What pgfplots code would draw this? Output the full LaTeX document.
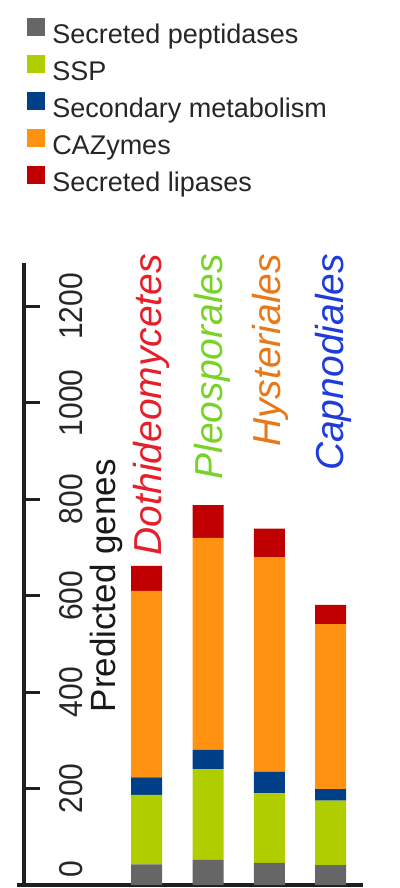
\documentclass[border=0pt]{standalone}
\usepackage{fontspec}
\setmainfont{Liberation Sans}
\usepackage{pgfplots}
\pgfplotsset{compat=1.18}
\definecolor{cpep}{HTML}{666666}
\definecolor{cssp}{HTML}{B0CD00}
\definecolor{csec}{HTML}{004088}
\definecolor{ccaz}{HTML}{FF9210}
\definecolor{clip}{HTML}{C00000}
\definecolor{tred}{HTML}{E5202A}
\definecolor{tgreen}{HTML}{78D228}
\definecolor{torange}{HTML}{E87818}
\definecolor{tblue}{HTML}{1E3CDC}
\begin{document}
\begin{tikzpicture}
\useasboundingbox (0,0) rectangle (400bp,888bp);
\begin{axis}[
  at={(24bp,3bp)}, anchor=south west,
  scale only axis, width=339bp, height=622bp,
  xmin=-2.0, xmax=3.527, ymin=0, ymax=1290,
  clip=false,
  ybar stacked, bar width=31bp,
  axis x line*=bottom, axis y line*=left,
  axis line style={line width=3.5bp, color=black!88},
  x axis line style={shorten <=-7bp},
  xtick=\empty,
  ytick={200,400,600,800,1000,1200},
  extra y ticks={33}, extra y tick labels={0},
  extra y tick style={major tick length=0pt},
  tick align=inside,
  major tick length=16bp,
  major tick style={line width=3bp, color=black!88},
  /pgf/number format/1000 sep={},
  /pgf/number format/assume math mode=true,
  yticklabel style={rotate=90, yshift=-47bp, xscale=0.91, anchor=center, font=\fontsize{33bp}{36bp}\selectfont, text=black!85},
  ylabel={Predicted genes},
  every axis y label/.style={at={(axis description cs:0.242,0.481)}, rotate=90, anchor=center, font=\fontsize{35bp}{40bp}\selectfont, text=black!90},
  legend style={draw=none, fill=none, at={(axis description cs:0.009,1.394)}, anchor=north west,
    inner sep=0pt, row sep=6bp, font=\fontsize{27bp}{30bp}\selectfont, text=black!85,
    nodes={inner sep=0pt, text height=20bp, text depth=6bp}},
  legend cell align=left,
  legend image code/.code={\fill[#1] (0bp,0bp) rectangle (18bp,18bp); \path (25bp,0bp);},
  every axis plot/.append style={draw=none},
]
\addplot[fill=cpep] coordinates {(0,43) (1,52) (2,46) (3,41)};
\addplot[fill=cssp] coordinates {(0,144) (1,188) (2,144) (3,134)};
\addplot[fill=csec] coordinates {(0,36) (1,40) (2,45) (3,24)};
\addplot[fill=ccaz] coordinates {(0,387) (1,440) (2,445) (3,342)};
\addplot[fill=clip] coordinates {(0,52) (1,68) (2,59) (3,40)};
\legend{Secreted peptidases, SSP, Secondary metabolism, CAZymes, Secreted lipases}
\node[rotate=90, anchor=east, text=tred, font=\fontsize{39bp}{42bp}\selectfont\itshape, inner sep=0pt] at (axis cs:0.07,1309) {Dothideomycetes};
\node[rotate=90, anchor=east, text=tgreen, font=\fontsize{39bp}{42bp}\selectfont\itshape, inner sep=0pt] at (axis cs:1.07,1309) {Pleosporales};
\node[rotate=90, anchor=east, text=torange, font=\fontsize{39bp}{42bp}\selectfont\itshape, inner sep=0pt] at (axis cs:2.02,1309) {Hysteriales};
\node[rotate=90, anchor=east, text=tblue, font=\fontsize{39bp}{42bp}\selectfont\itshape, inner sep=0pt] at (axis cs:3.04,1309) {Capnodiales};
\end{axis}
\end{tikzpicture}
\end{document}
